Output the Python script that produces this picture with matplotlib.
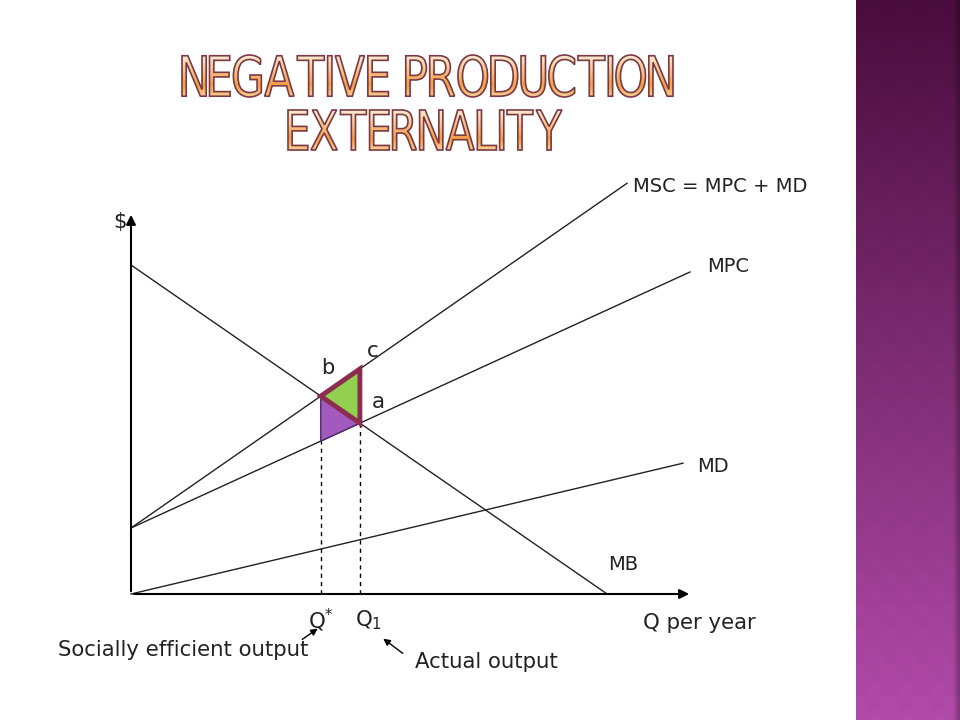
import numpy as np
import matplotlib.pyplot as plt
from matplotlib.textpath import TextPath, text_to_path
from matplotlib.font_manager import FontProperties
from matplotlib.patches import PathPatch, Polygon
from matplotlib.path import Path
from matplotlib.transforms import Affine2D

# curve parameters (price $ vs quantity Q)
mb_intercept = 6.58
mb_slope = -0.691
mpc_intercept = 1.32
mpc_slope = 0.458
md_slope = 0.237
q_end = {"MPC": 11.18, "MSC": 9.92, "MD": 11.04}

title_lines = ["NEGATIVE PRODUCTION", "EXTERNALITY"]
curve_labels = ["MSC = MPC + MD", "MPC", "MD", "MB"]

msc_slope = mpc_slope + md_slope
mb = lambda q: mb_intercept + mb_slope * q
mpc = lambda q: mpc_intercept + mpc_slope * q
msc = lambda q: mpc_intercept + msc_slope * q
md = lambda q: md_slope * q

q_star = (mb_intercept - mpc_intercept) / (msc_slope - mb_slope)
q_one = (mb_intercept - mpc_intercept) / (mpc_slope - mb_slope)
q_mb0 = -mb_intercept / mb_slope

fig = plt.figure(figsize=(9.6, 7.2), dpi=100)
ax = fig.add_axes([0, 0, 1, 1])
ax.set_xlim(-131 / 50, (960 - 131) / 50)
ax.set_ylim((594 - 720) / 50, 594 / 50)
ax.axis("off")

ink = "#222222"
fs_curve = 14
fs_bottom = 15.3

# right side decorative band
x0b = (856 - 131) / 50
h, w = 360, 52
yy, xx = np.mgrid[0:h, 0:w]
t = yy / (h - 1)
top = np.array([0x4a, 0x0d, 0x3d]) / 255
bot = np.array([0xb3, 0x4c, 0xab]) / 255
band = top[None, None, :] * (1 - t[..., None]) + bot[None, None, :] * t[..., None]
pat = (np.abs(((xx + yy) % 16) - 8) + np.abs(((xx - yy) % 16) - 8)) / 16.0
band = band * (0.97 + 0.035 * pat[..., None])
edge = np.clip((xx - (w - 4)) / 4, 0, 1)
band = band * (1 - 0.35 * edge[..., None])
ax.imshow(np.clip(band, 0, 1), extent=[x0b, (960 - 131) / 50, (594 - 720) / 50, 594 / 50],
          aspect="auto", zorder=0, interpolation="bilinear")


def spaced_path(s, prop, gap, space):
    # lay glyphs out by ink extents with a fixed gap between them
    verts, codes = [], []
    x = 0.0
    for ch in s:
        if ch == " ":
            x += space
            continue
        p = TextPath((0, 0), ch, size=prop.get_size_in_points(), prop=prop)
        e = p.get_extents()
        v = p.vertices.copy()
        v[:, 0] += x - e.x0
        verts.append(v)
        codes.append(p.codes)
        x += e.width + gap
    return Path(np.concatenate(verts), np.concatenate(codes))


# title with gradient fill
fp = FontProperties(family="DejaVu Sans", size=10)
boxes = [(182, 673, 55, 97), (288, 562, 110, 150)]
for line, (px0, px1, py0, py1) in zip(title_lines, boxes):
    tp = spaced_path(line, fp, 0.75, 3.2)
    ext = tp.get_extents()
    dx0, dx1 = (px0 - 131) / 50, (px1 - 131) / 50
    dy0, dy1 = (594 - py1) / 50, (594 - py0) / 50
    tr = (Affine2D().translate(-ext.x0, -ext.y0)
          .scale((dx1 - dx0) / ext.width, (dy1 - dy0) / ext.height)
          .translate(dx0, dy0))
    path = tr.transform_path(tp)
    grad = np.linspace(0, 1, 64)[:, None]
    c_top = np.array([0xfd, 0xeb, 0xd4]) / 255
    c_mid = np.array([0xf4, 0x9e, 0x44]) / 255
    c_bot = np.array([0xfa, 0xcf, 0x96]) / 255
    g = np.where(grad < 0.72, grad / 0.72, (1 - grad) / 0.28)
    cols = np.where((grad < 0.72)[..., None],
                    c_top * (1 - g[..., None]) + c_mid * g[..., None],
                    c_bot * (1 - g[..., None]) + c_mid * g[..., None])
    cols = np.repeat(cols, 2, axis=1)
    im = ax.imshow(cols, extent=[dx0, dx1, dy0, dy1], aspect="auto", zorder=5)
    patch = PathPatch(path, facecolor="none", edgecolor="none")
    ax.add_patch(patch)
    im.set_clip_path(patch)
    ax.add_patch(PathPatch(path, facecolor="none", edgecolor="#7a3a44", lw=1.2, zorder=6))

# axes with arrows
ax.annotate("", xy=(0, (594 - 212) / 50), xytext=(0, 0),
            arrowprops=dict(arrowstyle="-|>", color="black", lw=1.5, mutation_scale=14))
ax.annotate("", xy=((692 - 131) / 50, 0), xytext=(0, 0),
            arrowprops=dict(arrowstyle="-|>", color="black", lw=1.5, mutation_scale=14))

# curves
ax.plot([0, q_mb0], [mb(0), mb(q_mb0)], color=ink, lw=1.0)
ax.plot([0, q_end["MPC"]], [mpc(0), mpc(q_end["MPC"])], color=ink, lw=1.0)
ax.plot([0, q_end["MSC"]], [msc(0), msc(q_end["MSC"])], color=ink, lw=1.0)
ax.plot([0, q_end["MD"]], [md(0), md(q_end["MD"])], color=ink, lw=1.0)

# shaded areas
pb = (q_star, mb(q_star))
pa = (q_one, mb(q_one))
pc = (q_one, msc(q_one))
pd = (q_star, mpc(q_star))
ax.add_patch(Polygon([pb, pa, pd], closed=True, facecolor="#a35abf", edgecolor="#4b2a6a",
                     lw=1.0, zorder=3))
ax.add_patch(Polygon([pb, pc, pa], closed=True, facecolor="#92d050", edgecolor="#8c2c4f",
                     lw=3.5, joinstyle="miter", zorder=4))

# dashed guides
ax.plot([q_star, q_star], [0, pd[1]], color="black", lw=1.0, ls=(0, (3, 3)))
ax.plot([q_one, q_one], [0, pa[1]], color="black", lw=1.0, ls=(0, (3, 3)))

# labels
ax.text(-0.22, 7.44, "$", fontsize=fs_bottom, color=ink, ha="center", va="center")
ax.text(10.04, msc(q_end["MSC"]) - 0.06, curve_labels[0], fontsize=fs_curve, color=ink, va="center")
ax.text(11.52, 6.54, curve_labels[1], fontsize=fs_curve, color=ink, va="center")
ax.text(11.32, 2.56, curve_labels[2], fontsize=fs_curve, color=ink, va="center")
ax.text(9.54, 0.6, curve_labels[3], fontsize=fs_curve, color=ink, va="center")
ax.annotate("b", pb, xytext=(5, 20), textcoords="offset points", fontsize=15, color=ink,
            ha="center", va="center")
ax.annotate("c", pc, xytext=(9, 13), textcoords="offset points", fontsize=15.5, color=ink,
            ha="center", va="center")
ax.annotate("a", pa, xytext=(13, 15), textcoords="offset points", fontsize=15.5, color=ink,
            ha="center", va="center")
ax.text(q_star, -0.52, r"Q$^{*}$", fontsize=fs_bottom, color=ink, ha="center", va="center")
ax.text(q_one + 0.18, -0.52, r"Q$_{1}$", fontsize=fs_bottom, color=ink, ha="center", va="center")
ax.text(10.24, -0.58, "Q per year", fontsize=fs_bottom, color=ink, va="center")
ax.text(-1.46, -1.12, "Socially efficient output", fontsize=fs_bottom, color=ink, va="center")
ax.text(5.68, -1.36, "Actual output", fontsize=fs_bottom, color=ink, va="center")
ax.annotate("", xy=(3.78, -0.66), xytext=(3.38, -0.94),
            arrowprops=dict(arrowstyle="-|>", color="black", lw=1.0, mutation_scale=10))
ax.annotate("", xy=(5.0, -0.86), xytext=(5.48, -1.22),
            arrowprops=dict(arrowstyle="-|>", color="black", lw=1.0, mutation_scale=10))

fig.savefig("out.png", dpi=100)
